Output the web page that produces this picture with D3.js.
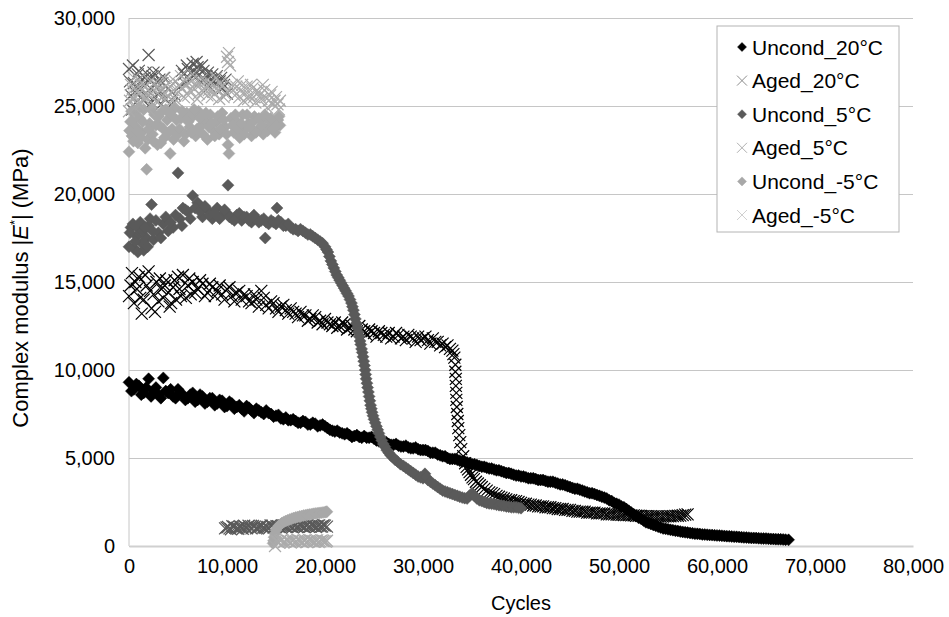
<!DOCTYPE html>
<html>
<head>
<meta charset="utf-8">
<script src="https://cdn.jsdelivr.net/npm/d3@7"></script>
<style>
body { margin: 0; background: #fff; }
text { font-family: "Liberation Sans", Arial, Helvetica, sans-serif; fill: #000; }
</style>
</head>
<body>
<div id="chartdiv"></div>
<script>
// tick values
var xTicks = [0, 10000, 20000, 30000, 40000, 50000, 60000, 70000, 80000];
var yTicks = [0, 5000, 10000, 15000, 20000, 25000, 30000];
var seriesNames = ["Uncond_20\u00B0C", "Aged_20\u00B0C", "Uncond_5\u00B0C", "Aged_5\u00B0C", "Uncond_-5\u00B0C", "Aged_-5\u00B0C"];

// [cycles, |E*| MPa]
var uncond20 = [[0,9300],[500,8900],[1000,9100],[1500,8700],[2000,9500],[2500,8800],[3000,8600],[3500,9550],[4000,8700],[4500,8500],[5000,8900],[5500,8600],[6000,8400],[6500,8700],[7000,8300],[7500,8500],[8000,8200],[8500,8400],[9000,8100],[9500,8250],[10000,7950],[10500,8100],[11000,7900],[11500,7800],[12000,7950],[12500,7700],[13000,7800],[13500,7600],[14000,7700],[14500,7500],[15000,7400],[15500,7250],[16000,7300],[16500,7150],[17000,7100],[17500,7000],[18000,7050],[18500,6900],[19000,6950],[19500,6850],[20000,6800],[20500,6600],[21000,6500],[21500,6450],[22000,6350],[22500,6300],[23000,6250],[23500,6200],[24000,6250],[24500,6150],[25000,6100],[25500,5950],[26000,5850],[26500,5800],[27000,5750],[27500,5700],[28000,5650],[28500,5600],[29000,5550],[29500,5500],[30000,5450],[30500,5400],[31000,5300],[31500,5200],[32000,5100],[32500,5000],[33000,4950],[33500,4900],[34000,4800],[34500,4750],[35000,4650],[35500,4600],[36000,4500],[36500,4450],[37000,4400],[37500,4300],[38000,4250],[38500,4150],[39000,4100],[39500,4000],[40000,3950],[40500,3900],[41000,3850],[41500,3800],[42000,3750],[42500,3700],[43000,3650],[43500,3600],[44000,3500],[44500,3450],[45000,3350],[45500,3250],[46000,3200],[46500,3100],[47000,3000],[47500,2950],[48000,2850],[48500,2750],[49000,2600],[49500,2450],[50000,2350],[50500,2200],[51000,2000],[51500,1800],[52000,1600],[52500,1450],[53000,1300],[53500,1200],[54000,1100],[54500,1000],[55000,950],[55500,900],[56000,850],[56500,800],[57000,760],[57500,720],[58000,690],[58500,660],[59000,640],[59500,620],[60000,600],[60500,580],[61000,560],[61500,540],[62000,520],[62500,500],[63000,480],[63500,460],[64000,450],[64500,430],[65000,420],[65500,400],[66000,390],[66500,380],[67000,360],[67300,350],
 [250,8800],[750,9200],[1250,8600],[1750,9000],[2250,8500],[2750,9000],[3250,8400],[3750,8800],[4250,8900],[4750,8400],[5250,8700],[5750,8300],[6250,8600],[6750,8200],[7250,8600],[7750,8100],[8250,8400],[8750,8000],[9250,8300],[9750,7900],[10250,8200],[10750,7800],[11250,8000],[11750,7650],[12250,7850],[12750,7550],[13250,7700],[13750,7500],[14250,7550],[14750,7350],[15250,7450],[15750,7200],[16250,7150],[16750,7200],[17250,7000],[17750,7100],[18250,6900],[18750,7000],[19250,6800],[19750,6900],[20250,6700],[20750,6550],[21250,6550],[21750,6400],[22250,6400],[22750,6200],[23250,6300],[23750,6150],[24250,6150],[24750,6200],[25250,6000],[25750,5900],[26250,5900],[26750,5750],[27250,5800],[27750,5650],[28250,5700],[28750,5550],[29250,5600],[29750,5450],[30250,5450],[30750,5300],[31250,5300],[31750,5150],[32250,5100],[32750,4950],[33250,4950],[33750,4850],[34250,4800],[34750,4700],[35250,4650],[35750,4550],[36250,4500],[36750,4400],[37250,4350],[37750,4300],[38250,4200],[38750,4150],[39250,4050],[39750,4000],[40250,3950],[40750,3850],[41250,3850],[41750,3750],[42250,3750],[42750,3650],[43250,3650],[43750,3550],[44250,3500],[44750,3400],[45250,3300],[45750,3250],[46250,3150],[46750,3050],[47250,3000],[47750,2900],[48250,2800],[48750,2700],[49250,2550],[49750,2400],[50250,2250],[50750,2100],[51250,1900],[51750,1700],[52250,1550],[52750,1350],[53250,1250],[53750,1150],[54250,1050],[54750,980],[55250,920],[55750,870],[56250,820],[56750,780],[57250,740],[57750,700],[58250,680],[58750,650],[59250,630],[59750,610],[60250,590],[60750,570],[61250,550],[61750,530],[62250,510],[62750,490],[63250,470],[63750,455],[64250,440],[64750,425],[65250,410],[65750,395],[66250,385],[66750,370]];

var aged20 = [[0,14200],[300,15500],[500,13800],[800,14600],[1000,15300],[1300,13200],[1500,14000],[1800,14800],[2000,15600],[2300,13500],[2500,14300],[2800,15000],[3000,13900],[3300,14600],[3500,14100],[3800,15100],[4000,14400],[4300,13800],[4500,14700],[5000,15300],[5300,14200],[5500,15400],[6000,14800],[6300,14300],[6500,15000],[7000,14600],[7500,14900],[8000,14400],[8500,14700],[9000,14500],[9500,14300],[10000,14600],[10500,14200],[11000,14400],[11500,14000],[12000,14200],[12500,13800],[13000,14000],[13500,14500],[14000,13700],[14500,13900],[15000,13500],[15500,13600],[16000,13400],[16500,13500],[17000,13200],[17500,13300],[18000,13100],[18500,12900],[19000,13000],[19500,12800],[20000,12900],[20500,12600],[21000,12700],[21500,12500],[22000,12600],[22500,12400],[23000,12300],[23500,12500],[24000,12200],[24500,12300],[25000,12100],[25500,12200],[26000,12000],[26500,12100],[27000,11900],[27500,12000],[28000,11900],[28500,12000],[29000,11800],[29500,11900],[30000,11800],[30500,11700],[31000,11800],[31500,11600],[32000,11500],[32500,11400],[33000,11100],[33200,10700],[33300,10300],[33300,9900],[33350,9500],[33350,9100],[33400,8700],[33400,8300],[33450,7900],[33500,7500],[33550,7100],[33600,6700],[33700,6300],[33800,5900],[33900,5500],[34100,5100],[34300,4700],[34600,4350],[34900,4050],[35200,3800],[35600,3550],[36000,3350],[36500,3150],[37000,3000],[37500,2850],[38000,2750],[38500,2650],[39000,2600],[39500,2550],[40000,2450],[40500,2400],[41000,2350],[41500,2300],[42000,2250],[42500,2200],[43000,2200],[43500,2150],[44000,2100],[44500,2050],[45000,2050],[45500,2000],[46000,1950],[46500,1950],[47000,1900],[47500,1900],[48000,1850],[48500,1850],[49000,1800],[49500,1800],[50000,1780],[50500,1760],[51000,1750],[51500,1740],[52000,1720],[52500,1700],[53000,1700],[53500,1680],[54000,1680],[54500,1670],[55000,1680],[55500,1700],[56000,1720],[56500,1750],[57000,1800],
 [150,14800],[650,15000],[1150,14100],[1650,15400],[2150,14500],[2650,13300],[3150,15200],[3650,14800],[4150,13600],[4650,15100],[4800,14000],[5150,14600],[5800,14100],[6150,15200],[6750,14400],[7250,15100],[7750,14200],[8250,14900],[8750,14200],[9250,14800],[9750,14000],[10250,14700],[10750,13900],[11250,14500],[11750,14300],[12250,13900],[12750,14300],[13250,13600],[13750,14100],[14250,13500],[14750,13800],[15250,13300],[15750,13700],[16250,13200],[16750,13300],[17250,13000],[17750,13100],[18250,12800],[18750,13100],[19250,12700],[19750,12600],[20250,12700],[20750,12500],[21250,12400],[21750,12700],[22250,12300],[22750,12500],[23250,12200],[23750,12300],[24250,12000],[24750,12200],[25250,11900],[25750,12100],[26250,11900],[26750,11800],[27250,12100],[27750,11800],[28250,11700],[28750,11900],[29250,11600],[29750,11700],[30250,11900],[30750,11500],[31250,11600],[31750,11400],[32250,11300],[32750,11200],[33100,10900],
 [34450,4500],[34750,4200],[35050,3900],[35400,3650],[35800,3450],[36250,3250],[36750,3050],[37250,2950],[37750,2800],[38250,2700],[38750,2600],[39250,2550],[39750,2500],[40250,2400],[40750,2350],[41250,2300],[41750,2250],[42250,2250],[42750,2200],[43250,2150],[43750,2100],[44250,2100],[44750,2050],[45250,2000],[45750,1950],[46250,1950],[46750,1900],[47250,1900],[47750,1850],[48250,1850],[48750,1800],[49250,1800],[49750,1780],[50250,1770],[50750,1750],[51250,1740],[51750,1720],[52250,1710],[52750,1700],[53250,1690],[53750,1680],[54250,1670],[54750,1680],[55250,1690],[55750,1710],[56250,1730],[56750,1780]];

var uncond5 = [[0,17000],[200,18100],[500,16900],[800,17600],[1000,18000],[1300,17200],[1500,16800],[1800,17500],[2000,18200],[2300,19400],[2500,17400],[3000,17800],[3500,18300],[4000,17900],[4500,18100],[5000,21200],[5200,18600],[5500,19200],[6000,19000],[6500,19900],[7000,19500],[7500,18700],[8000,19100],[8500,18600],[9000,19200],[9500,18800],[10000,18900],[10100,20500],[10500,18600],[11000,18800],[11500,18500],[12000,18700],[12500,18400],[13000,18600],[13500,18500],[13900,17500],[14000,18400],[14500,18500],[15000,18300],[15100,19200],[15500,18400],[16000,18200],[16500,18100],[17000,18000],[17500,18000],[18000,17800],[18500,17700],[19000,17500],[19500,17300],[20000,17000],[20300,16700],[20600,16200],[20900,15800],[21200,15400],[21500,15100],[21800,14800],[22100,14500],[22400,14200],[22700,13800],[22900,13400],[23100,12900],[23300,12400],[23500,11900],[23650,11450],[23800,11000],[23950,10500],[24100,10000],[24200,9500],[24350,9000],[24500,8500],[24650,8000],[24800,7600],[25000,7200],[25250,6800],[25500,6400],[25800,6000],[26100,5650],[26500,5300],[26900,5050],[27400,4800],[28000,4550],[28500,4350],[29000,4150],[29500,3950],[30000,3850],[30200,4100],[30500,3750],[31000,3550],[31500,3350],[32000,3150],[32500,3050],[33000,2950],[33500,2850],[34000,2750],[34500,2700],[35000,3000],[35500,2700],[36000,2550],[36500,2450],[37000,2400],[37500,2350],[38000,2300],[38500,2250],[39000,2200],[39500,2200],[40000,2150],
 [100,17800],[400,18300],[650,17300],[900,16700],[1150,18400],[1400,17900],[1650,18100],[1900,17000],[2150,18600],[2400,17900],[2750,18500],[3250,17500],[3750,18700],[4250,18400],[4750,18800],[5400,18200],[5750,19100],[6250,18600],[6750,19200],[7250,19000],[7750,19300],[8250,18800],[8750,18900],[9250,18600],[9750,19100],[10250,18700],[10750,18500],[11250,18900],[11750,18700],[12250,18500],[12750,18800],[13250,18400],[13750,18600],[14250,18300],[14750,18400],[15250,18500],[15750,18200],[16250,18300],[16750,18000],[17250,17900],[17750,17900],[18250,17700],[18750,17600],[19250,17400],[19750,17200],
 [20150,16850],[20450,16450],[20750,16000],[21050,15600],[21350,15250],[21650,14950],[21950,14650],[22250,14350],[22550,14000],[22800,13600],[23000,13150],[23200,12650],[23400,12150],[23580,11650],[23730,11200],[23880,10750],[24030,10250],[24150,9750],[24280,9250],[24430,8750],[24580,8250],[24730,7800],[24900,7400],[25120,7000],[25380,6600],[25650,6200],[25950,5800],[26300,5450],[26700,5150],[27150,4900],[27700,4650],[28250,4450],[28750,4250],[29250,4050],[29750,3900],[30100,3950],[30350,3900],[30750,3650],[31250,3450],[31750,3250],[32250,3100],[32750,3000],[33250,2900],[33750,2800],[34250,2720],[34750,2850],[35250,2850],[35750,2600],[36250,2500],[36750,2420],[37250,2380],[37750,2320],[38250,2280],[38750,2230],[39250,2200],[39750,2170]];

var aged5 = [[0,27100],[200,25600],[300,24800],[500,26300],[700,25200],[900,26800],[1100,25900],[1300,26500],[1500,25300],[1700,26900],[2000,27900],[2200,26000],[2400,26700],[2600,25500],[2800,26400],[3000,26900],[3200,25800],[3400,26300],[3700,25400],[4000,26000],[4300,25100],[4700,25600],[5200,26100],[5600,26800],[5900,27300],[6200,26500],[6500,27400],[6800,26900],[7000,27200],[7300,26400],[7600,27000],[7900,26700],[8200,26100],[8500,26800],[8800,26300],[9100,25900],[9400,26600],[9700,26200],[10000,25700],
 [100,26400],[400,27300],[600,25800],[800,26100],[1000,27000],[1200,25500],[1400,26200],[1600,26600],[1900,25600],[2100,26500],[2300,25200],[2500,26900],[2700,26200],[2900,25700],[3100,26500],[3300,25100],[3600,26600],[5400,27000],[5700,26300],[6000,27100],[6300,26900],[6600,26700],[6900,27500],[7150,26800],[7450,27300],[7750,26500],[8050,26900],[8350,26500],[8650,26400],[8950,26700],[9250,26400],[9550,26000],[9850,26500],
 [9800,1000],[10100,1080],[10400,950],[10700,1100],[11000,1000],[11300,1120],[11600,980],[11900,1060],[12200,1150],[12500,1000],[12800,1090],[13100,1020],[13400,1130],[13700,1050],[14000,1100],[14300,1000],[14600,1150],[14900,1060],[15200,1120],[15500,1040],[15800,1170],[16100,1080],[16400,1130],[16700,1060],[17000,1160],[17300,1090],[17600,1140],[17900,1070],[18200,1180],[18500,1100],[18800,1150],[19100,1080],[19400,1170],[19700,1110],[20000,1160],[20200,1100],
 [9950,1050],[10250,1000],[10550,1120],[10850,1040],[11150,980],[11450,1080],[11750,1150],[12050,1010],[12350,1070],[12650,1140],[12950,1000],[13250,1080],[13550,1150],[13850,1030],[14150,1090],[14450,1170],[14750,1050],[15050,1130],[15350,1080],[15650,1150],[15950,1090],[16250,1180],[16550,1100],[16850,1140],[17150,1080],[17450,1180],[17750,1120],[18050,1150],[18350,1090],[18650,1180],[18950,1120],[19250,1150],[19550,1100],[19850,1180]];

var uncondM5 = [[0,22400],[150,24100],[300,23300],[500,24600],[700,23800],[900,22900],[1100,24300],[1300,23500],[1500,24800],[1800,21400],[1900,23100],[2100,24000],[2400,23400],[2600,24500],[2900,22800],[3100,23900],[3400,24700],[3600,23200],[3900,24200],[4200,22300],[4400,23700],[4700,24900],[5000,23400],[5300,24300],[5600,23000],[5900,24600],[6200,23800],[6500,24400],[6800,23300],[7100,24700],[7400,23900],[7700,24200],[8000,23100],[8300,24500],[8600,23600],[8900,24100],[9200,23400],[9500,24600],[9800,23800],[10100,22800],[10200,22300],[10400,24300],[10700,23500],[11000,24100],[11300,23200],[11600,24500],[11900,23700],[12200,24000],[12500,23300],[12800,24400],[13100,23600],[13400,24200],[13700,23400],[14000,24300],[14300,23800],[14600,24100],[14900,23500],[15200,24200],[15400,23900],
 [50,23600],[250,24700],[450,23000],[650,24300],[850,23600],[1000,24900],[1200,23200],[1400,24100],[1650,22600],[2000,23700],[2250,24800],[2500,23000],[2750,23900],[3000,24400],[3250,22900],[3500,23700],[3750,24800],[4050,23500],[4300,24500],[4550,23100],[4850,24200],[5150,23700],[5450,24700],[5750,23400],[6050,24100],[6350,23500],[6650,24800],[6950,23700],[7250,24300],[7550,23400],[7850,24600],[8150,23800],[8450,24000],[8750,23300],[9050,24400],[9350,23700],[9650,24200],[9950,23400],[10550,23900],[10850,24500],[11150,23700],[11450,24000],[11750,23400],[12050,24500],[12350,23800],[12650,24100],[12950,23500],[13250,24300],[13550,23900],[13850,24500],[14150,23600],[14450,24300],[14750,23700],[15050,23900],[15300,24400],
 [14700,150],[14800,500],[15000,900],[15300,1150],[15600,1300],[16000,1420],[16400,1510],[16800,1590],[17200,1650],[17600,1700],[18000,1750],[18400,1790],[18800,1830],[19200,1860],[19600,1890],[20000,1920],[20200,1950],
 [14750,300],[14900,700],[15150,1050],[15450,1230],[15800,1370],[16200,1470],[16600,1550],[17000,1620],[17400,1680],[17800,1730],[18200,1770],[18600,1810],[19000,1850],[19400,1880],[19800,1910],[20100,1940]];

var agedM5 = [[0,24700],[200,26200],[400,25400],[600,24900],[800,25800],[1000,26500],[1200,25100],[1400,25600],[1700,26100],[2000,24800],[2300,25700],[2600,26300],[2900,25200],[3200,25900],[3500,26600],[3800,25400],[4100,26000],[4400,25300],[4700,26400],[5000,25800],[5300,26700],[5600,25500],[5900,26200],[6200,25900],[6500,26800],[6800,26300],[7100,25700],[7400,26500],[7700,26000],[8000,25600],[8300,26300],[8600,25800],[8900,26600],[9200,25400],[9500,26100],[9800,25700],[10000,27800],[10200,28000],[10300,27300],[10500,26200],[10800,25600],[11100,26400],[11400,25900],[11700,25300],[12000,26100],[12300,25600],[12600,26000],[12900,25200],[13200,25800],[13500,25400],[13800,25900],[14100,24900],[14400,25600],[14700,25100],[15000,25500],[15300,24800],[15400,25300],
 [100,25300],[300,25900],[500,26600],[700,25500],[900,25100],[1100,26000],[1300,26300],[1550,25400],[1850,25700],[2150,26400],[2450,25100],[2750,25800],[3050,26200],[3350,25500],[3650,26100],[3950,25600],[4250,26400],[4550,25900],[4850,25300],[5150,26200],[5450,26000],[5750,26500],[6050,25600],[6350,26400],[6650,26000],[6950,25400],[7250,26200],[7550,25800],[7850,26400],[8150,25900],[8450,25500],[8750,26100],[9050,25900],[9350,26300],[9650,25500],[10100,27500],[10650,25900],[10950,26100],[11250,25500],[11550,26200],[11850,25700],[12150,25400],[12450,26200],[12750,25500],[13050,25900],[13350,25600],[13650,26200],[13950,25500],[14250,25300],[14550,25800],[14850,25300],[15150,25100],
 [14900,0],[15000,300],[15300,200],[15600,350],[15900,250],[16200,300],[16500,200],[16800,320],[17100,250],[17400,300],[17700,220],[18000,320],[18300,260],[18600,300],[18900,240],[19200,320],[19500,260],[19800,300],[20100,250],
 [15150,250],[15450,300],[15750,200],[16050,330],[16350,260],[16650,300],[16950,220],[17250,330],[17550,260],[17850,300],[18150,230],[18450,320],[18750,270],[19050,300],[19350,230],[19650,320],[19950,280],[20200,300]];

var W = 949, H = 617;
var pl = 129, pr = 913, pt = 18, pb = 546;

var xScale = d3.scaleLinear().domain([0, 80000]).range([pl, pr]);
var yScale = d3.scaleLinear().domain([0, 30000]).range([pb, pt]);

var svg = d3.select('#chartdiv').append('svg')
 .attr('width', W).attr('height', H)
 .style('background-color', '#fff');

// grid + y labels
var yAxis = svg.append('g')
 .attr('transform', 'translate(' + pl + ',0)')
 .call(d3.axisLeft(yScale).tickValues(yTicks).tickFormat(d3.format(',')).tickSize(-(pr - pl)).tickPadding(14));
yAxis.select('.domain').remove();
yAxis.selectAll('line').attr('stroke', '#c6c6c6').attr('stroke-width', 1);
yAxis.selectAll('text').attr('font-size', '20px').attr('font-family', '"Liberation Sans", Arial, sans-serif');

svg.append('line')
 .attr('x1', pl).attr('x2', pl).attr('y1', pt).attr('y2', pb)
 .attr('stroke', '#c6c6c6').attr('stroke-width', 1);

var xAxis = svg.append('g')
 .attr('transform', 'translate(0,' + pb + ')')
 .call(d3.axisBottom(xScale).tickValues(xTicks).tickFormat(d3.format(',')).tickSize(0).tickPadding(13));
xAxis.select('.domain').attr('stroke', '#d0d0d0').attr('stroke-width', 2);
xAxis.selectAll('text').attr('font-size', '20px').attr('font-family', '"Liberation Sans", Arial, sans-serif');

// axis titles
svg.append('text')
 .attr('x', (pl + pr) / 2).attr('y', 610)
 .attr('text-anchor', 'middle').attr('font-size', '20px')
 .text('Cycles');

var ytitle = svg.append('text')
 .attr('transform', 'translate(28,288) rotate(-90)')
 .attr('text-anchor', 'middle').attr('font-size', '22px');
ytitle.append('tspan').text('Complex modulus |');
ytitle.append('tspan').attr('font-style', 'italic').text('E');
ytitle.append('tspan').attr('font-size', '13px').attr('dy', '-9').text('*');
ytitle.append('tspan').attr('dy', '9').text('| (MPa)');

// markers
var diamond = 'M0,-6L6,0L0,6L-6,0Z';
var cross = 'M-6,-6L6,6M-6,6L6,-6';

var series = [
 {name: seriesNames[0], data: uncond20, kind: 'd', color: '#000000'},
 {name: seriesNames[1], data: aged20, kind: 'x', color: '#000000'},
 {name: seriesNames[2], data: uncond5, kind: 'd', color: '#5a5a5a'},
 {name: seriesNames[3], data: aged5, kind: 'x', color: '#5a5a5a'},
 {name: seriesNames[4], data: uncondM5, kind: 'd', color: '#a8a8a8'},
 {name: seriesNames[5], data: agedM5, kind: 'x', color: '#ababab'}
];

series.forEach(function(s) {
 var g = svg.append('g');
 g.selectAll('path')
  .data(s.data)
  .enter().append('path')
  .attr('transform', function(d) { return 'translate(' + xScale(d[0]) + ',' + yScale(d[1]) + ')'; })
  .attr('d', s.kind == 'd' ? diamond : cross)
  .attr('fill', s.kind == 'd' ? s.color : 'none')
  .attr('stroke', s.color)
  .attr('stroke-width', s.kind == 'd' ? 0.5 : 1.2);
});

// legend
var lg = svg.append('g');
lg.append('rect')
 .attr('x', 717).attr('y', 26).attr('width', 182).attr('height', 206)
 .attr('fill', '#fff').attr('stroke', '#b4b4b4').attr('stroke-width', 1);
var legendColors = ['#000000', '#8c8c8c', '#5a5a5a', '#b0b0b0', '#a8a8a8', '#d0d0d0'];
series.forEach(function(s, i) {
 var ly = 47 + i * 33.6;
 lg.append('path')
  .attr('transform', 'translate(742,' + ly + ')')
  .attr('d', s.kind == 'd' ? 'M0,-4.5L4.5,0L0,4.5L-4.5,0Z' : 'M-5,-5L5,5M-5,5L5,-5')
  .attr('fill', s.kind == 'd' ? legendColors[i] : 'none')
  .attr('stroke', legendColors[i])
  .attr('stroke-width', s.kind == 'd' ? 0.5 : 1);
 lg.append('text')
  .attr('x', 752).attr('y', ly).attr('dy', '0.36em')
  .attr('font-size', '21px')
  .text(s.name);
});
</script>
</body>
</html>
